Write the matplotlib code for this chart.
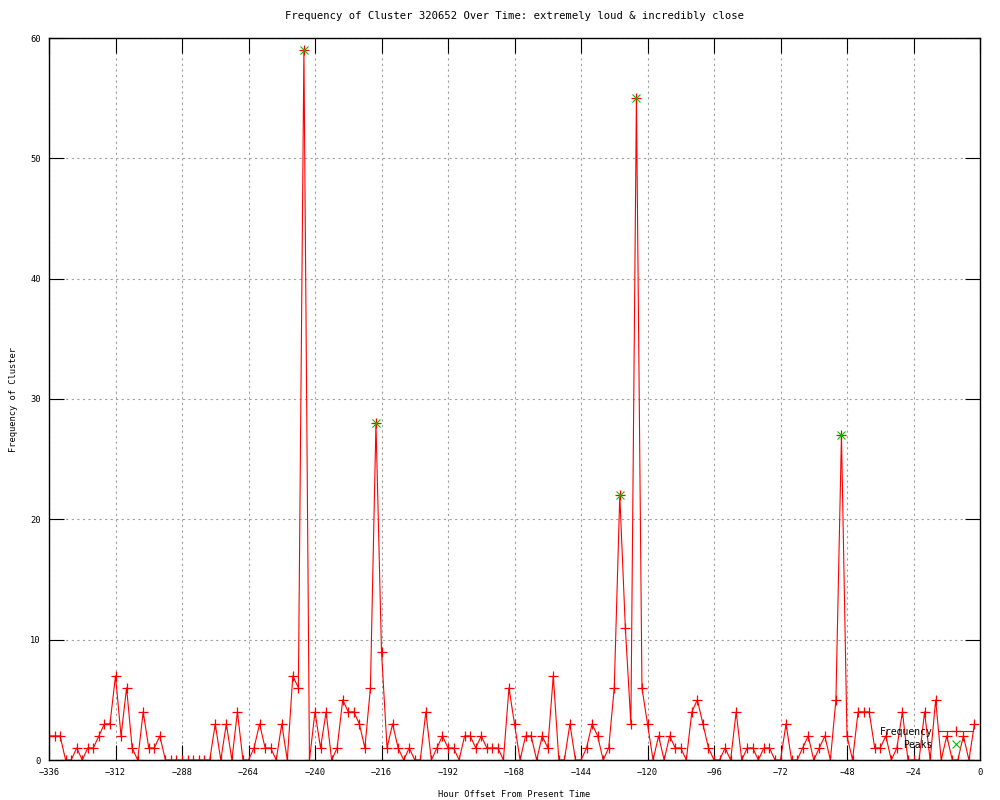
import matplotlib
matplotlib.use("Agg")
import matplotlib.pyplot as plt

# hour offsets, every 2 hours from -336 to -2
hours = list(range(-336, 0, 2))
freq = [2, 2, 2, 0, 0, 1, 0, 1, 1, 2, 3, 3, 7, 2, 6, 1, 0, 4, 1, 1,
        2, 0, 0, 0, 0, 0, 0, 0, 0, 0, 3, 0, 3, 0, 4, 0, 0, 1, 3, 1,
        1, 0, 3, 0, 7, 6, 59, 0, 4, 1, 4, 0, 1, 5, 4, 4, 3, 1, 6, 28,
        9, 1, 3, 1, 0, 1, 0, 0, 4, 0, 1, 2, 1, 1, 0, 2, 2, 1, 2, 1,
        1, 1, 0, 6, 3, 0, 2, 2, 0, 2, 1, 7, 0, 0, 3, 0, 0, 1, 3, 2,
        0, 1, 6, 22, 11, 3, 55, 6, 3, 0, 2, 0, 2, 1, 1, 0, 4, 5, 3, 1,
        0, 0, 1, 0, 4, 0, 1, 1, 0, 1, 1, 0, 0, 3, 0, 0, 1, 2, 0, 1,
        2, 0, 5, 27, 2, 0, 4, 4, 4, 1, 1, 2, 0, 1, 4, 0, 0, 0, 4, 0,
        5, 0, 2, 0, 0, 2, 0, 3]

peak_hours = [-244, -218, -130, -124, -50]
peak_vals = [59, 28, 22, 55, 27]

xticks = list(range(-336, 1, 24))
yticks = list(range(0, 61, 10))

plt.rcParams['font.family'] = 'DejaVu Sans Mono'
plt.rcParams['font.size'] = 6.3

fig = plt.figure(figsize=(10, 8), dpi=100)
ax = fig.add_axes([0.049, 0.05, 0.931, 0.9025])

ax.plot(hours, freq, color='#ff0000', lw=0.8, marker='+', ms=7, mew=0.9,
        label='Frequency')
ax.plot(peak_hours, peak_vals, ls='none', color='#00c000', marker='x', ms=6,
        mew=0.8, label='Peaks')

ax.set_xlim(-336, 0)
ax.set_ylim(0, 60)
ax.set_xticks(xticks)
ax.set_yticks(yticks)
ax.grid(True, color='#a0a0a0', ls=(0, (2, 3)), lw=0.8)
ax.tick_params(direction='in', length=11, width=0.8, top=True, right=True,
               pad=6, colors='black')
for sp in ax.spines.values():
    sp.set_linewidth(1.0)

ax.set_title('Frequency of Cluster 320652 Over Time: extremely loud & incredibly close',
             pad=14)
ax.set_xlabel('Hour Offset From Present Time', labelpad=9)
ax.set_ylabel('Frequency of Cluster', labelpad=9)

ax.legend(loc='lower right', bbox_to_anchor=(1.0, 0.005), frameon=False,
          markerfirst=False, handlelength=3.6, handletextpad=0.6,
          labelspacing=0.3, borderpad=0.2, fontsize=7)

fig.savefig('out.png', dpi=100)
